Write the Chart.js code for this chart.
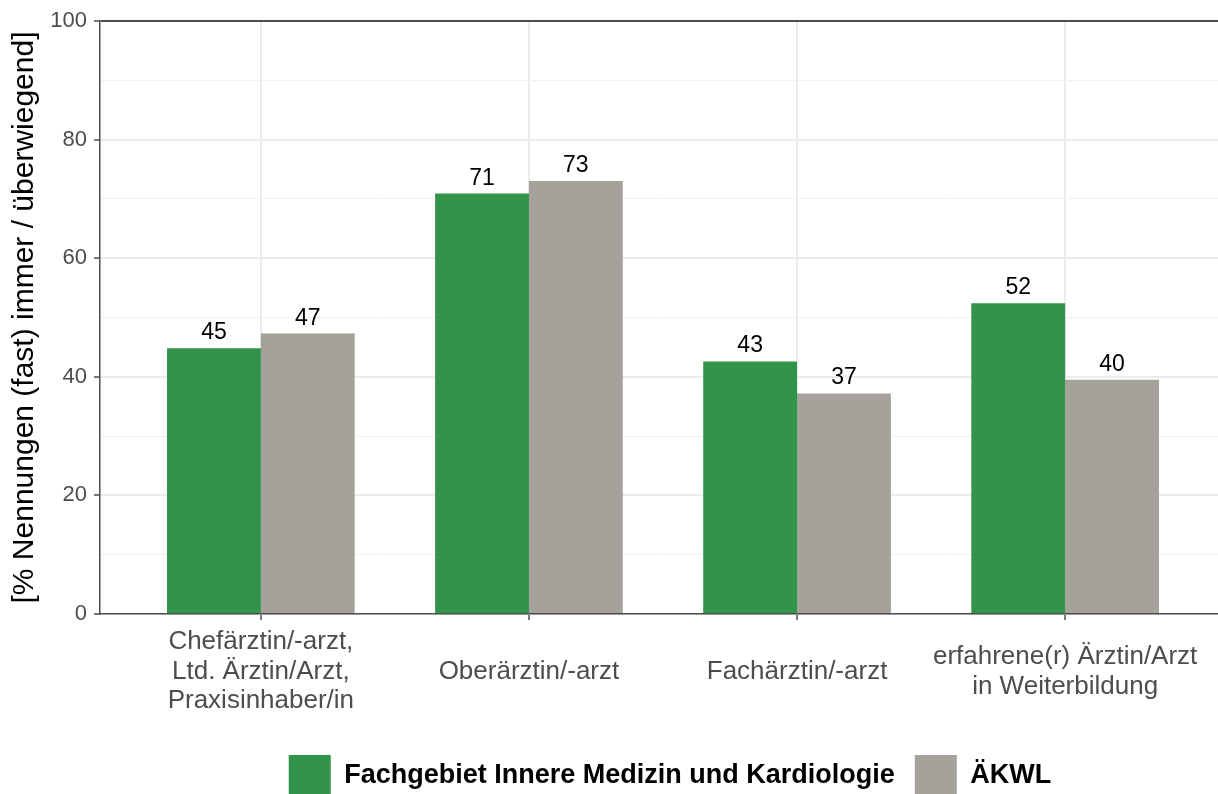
<!DOCTYPE html>
<html><head><meta charset="utf-8">
<script src="https://cdn.jsdelivr.net/npm/chart.js@4.4.1/dist/chart.umd.min.js"></script>
<style>
html,body{margin:0;padding:0;overflow:hidden;background:#fff;width:1218px;height:794px;}
#wrap{position:absolute;left:0;top:0;width:1226px;height:807px;}
</style></head><body>
<div id="wrap"><canvas id="c"></canvas></div>
<script>
const categories = [["Chefärztin/-arzt,","Ltd. Ärztin/Arzt,","Praxisinhaber/in"],"Oberärztin/-arzt","Fachärztin/-arzt",["erfahrene(r) Ärztin/Arzt","in Weiterbildung"]];
const seriesNames = ["Fachgebiet Innere Medizin und Kardiologie","ÄKWL"];
const fachgebietValues = [44.8, 70.9, 42.6, 52.4];
const aekwlValues = [47.3, 73.0, 37.2, 39.5];
const yTickValues = [0,20,40,60,80,100];
const yTitle = "[% Nennungen (fast) immer / überwiegend]";

const FAMILY = '"Liberation Sans", Arial, Helvetica, sans-serif';

const valueLabels = {
  id:'valueLabels',
  afterDatasetsDraw(chart){
    const ctx = chart.ctx;
    ctx.save();
    ctx.font = '23px ' + FAMILY;
    ctx.fillStyle = '#000';
    ctx.textAlign = 'center';
    ctx.textBaseline = 'alphabetic';
    chart.data.datasets.forEach((ds, di) => {
      chart.getDatasetMeta(di).data.forEach((bar, i) => {
        ctx.fillText(String(Math.round(ds.data[i].y)), bar.x, bar.y - 9);
      });
    });
    ctx.restore();
  }
};

const legendShift = {
  id:'legendShift',
  afterLayout(chart){
    if (chart.legend){ chart.legend.left += 7; chart.legend.right += 7; }
  }
};

const toPoints = arr => arr.map((v, i) => ({x: i, y: v}));

new Chart(document.getElementById('c'), {
  type: 'bar',
  data: {
    datasets: [
      {label: seriesNames[0], data: toPoints(fachgebietValues), backgroundColor: '#32934a', borderWidth: 0},
      {label: seriesNames[1], data: toPoints(aekwlValues), backgroundColor: '#a5a29b', borderWidth: 0}
    ]
  },
  options: {
    responsive: true,
    maintainAspectRatio: false,
    animation: false,
    categoryPercentage: 0.7,
    barPercentage: 1.0,
    layout: {padding: {top: 21, right: 0, bottom: 0, left: 0}},
    scales: {
      x: {
        type: 'linear', min: -0.6, max: 3.6, offset: false,
        afterBuildTicks(s){ s.ticks = categories.map((_, i) => ({value: i})); },
        afterFit(s){ s.height = 121; },
        ticks: {autoSkip: false, maxRotation: 0, minRotation: 0, padding: 22, crossAlign: 'center',
          color: '#4d4d4d', font: {size: 26, family: FAMILY, lineHeight: 1.14},
          callback: v => categories[v]},
        grid: {offset: false, color: '#ebebeb', lineWidth: 2, tickLength: 6, tickColor: '#4d4d4d', tickWidth: 1.5},
        border: {display: true, color: '#4d4d4d', width: 1.5}
      },
      y: {
        min: 0, max: 100,
        afterFit(s){ s.width = 100; },
        ticks: {stepSize: 10, autoSkip: false, padding: 7, color: '#4d4d4d',
          font: {size: 22, family: FAMILY},
          callback: v => yTickValues.includes(v) ? String(v) : ''},
        grid: {
          color: c => c.tick.value === 100 ? '#4d4d4d' : (c.tick.value % 20 === 0 ? '#ebebeb' : '#f0f0f0'),
          lineWidth: c => c.tick.value % 20 === 0 ? 2 : 1,
          tickLength: 6,
          tickColor: c => c.tick.value % 20 === 0 ? '#4d4d4d' : 'rgba(0,0,0,0)',
          tickWidth: 1.5
        },
        border: {display: true, color: '#4d4d4d', width: 1.5},
        title: {display: true, text: yTitle, color: '#000', font: {size: 30, family: FAMILY}, padding: {top: 7, bottom: 0}}
      }
    },
    plugins: {
      legend: {
        position: 'bottom', fullSize: false,
        labels: {boxWidth: 42, boxHeight: 42, padding: 20, color: '#000',
          font: {size: 27, weight: 'bold', family: FAMILY}}
      },
      tooltip: {enabled: false}
    }
  },
  plugins: [valueLabels, legendShift]
});
</script>
</body></html>
